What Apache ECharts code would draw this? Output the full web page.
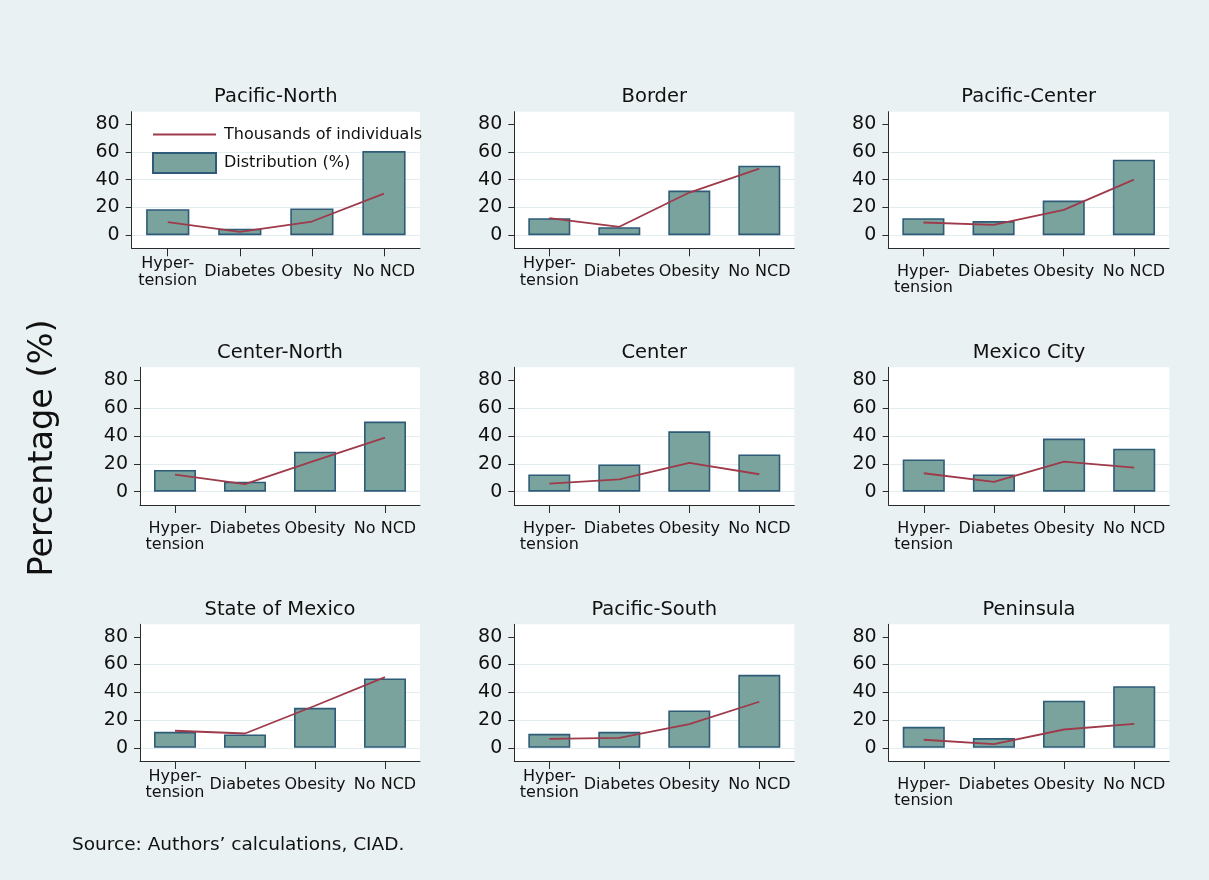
<!DOCTYPE html>
<html>
<head>
<meta charset="utf-8">
<title>NCD distribution by region</title>
<script src="https://cdn.jsdelivr.net/npm/echarts@6/dist/echarts.min.js"></script>
<style>
  html, body { margin: 0; padding: 0; background: #eaf1f3; }
  #chart { width: 1209px; height: 880px; }
</style>
</head>
<body>
<div id="chart"></div>
<script>
// Categories shared by every panel
const categories = ['Hyper-\ntension', 'Diabetes', 'Obesity', 'No NCD'];
const yTicks = [0, 20, 40, 60, 80];

const regions = ['Pacific-North', 'Border', 'Pacific-Center',
                 'Center-North', 'Center', 'Mexico City',
                 'State of Mexico', 'Pacific-South', 'Peninsula'];

// Distribution (%) per region
const distPacificNorth  = [18.7, 4.6, 19.2, 60.6];
const distBorder        = [12.2, 5.7, 32.1, 50.1];
const distPacificCenter = [12.2, 10.1, 24.9, 54.4];
const distCenterNorth   = [15.6, 7.2, 28.6, 50.2];
const distCenter        = [12.3, 19.5, 43.2, 26.7];
const distMexicoCity    = [23.1, 12.3, 38.0, 30.8];
const distStateOfMexico = [11.5, 9.6, 28.8, 50.0];
const distPacificSouth  = [10.1, 11.5, 26.9, 52.6];
const distPeninsula     = [15.1, 7.0, 33.9, 44.4];

// Thousands of individuals per region
const thouPacificNorth  = [9.3, 2.4, 9.8, 29.9];
const thouBorder        = [12.2, 6.0, 30.7, 47.9];
const thouPacificCenter = [9.1, 7.4, 18.2, 40.0];
const thouCenterNorth   = [12.3, 5.5, 22.3, 38.7];
const thouCenter        = [5.8, 8.9, 20.7, 12.5];
const thouMexicoCity    = [13.2, 7.0, 21.6, 17.3];
const thouStateOfMexico = [12.3, 10.3, 30.3, 50.9];
const thouPacificSouth  = [6.5, 7.2, 17.1, 33.2];
const thouPeninsula     = [5.8, 2.6, 13.2, 17.3];

const distribution = [distPacificNorth, distBorder, distPacificCenter,
                      distCenterNorth, distCenter, distMexicoCity,
                      distStateOfMexico, distPacificSouth, distPeninsula];
const thousands = [thouPacificNorth, thouBorder, thouPacificCenter,
                   thouCenterNorth, thouCenter, thouMexicoCity,
                   thouStateOfMexico, thouPacificSouth, thouPeninsula];

// Plot-region boxes [left, right, top, bottom] for each panel
const boxes = [
  [131.7, 420, 111.7, 248.3], [514.3, 794.3, 111.7, 248.3], [888.3, 1169, 111.7, 248.3],
  [140, 420, 367.3, 505],     [514.3, 794.3, 367.3, 505],   [888.7, 1169.3, 367.3, 505],
  [140, 420, 624.3, 761],     [514.3, 794.3, 624.3, 761],   [888.7, 1169.3, 624.3, 761]
];
// Panels whose two-line label is centred on the axis label row
const centredLabels = [true, true, false, false, false, false, true, true, false];

const FONT = 'DejaVu Sans';
const INK = '#111';
const AXIS = '#2b2b2b';
const BAR_FILL = '#7ba39d';
const BAR_EDGE = '#2e5b78';
const LINE_COL = '#9e3a4a';
const GRID_COL = '#e3ecef';

const grids = [], xAxes = [], yAxes = [], series = [], graphics = [];

boxes.forEach((b, i) => {
  const [l, r, t, btm] = b;
  grids.push({
    left: l, top: t, width: r - l, height: btm - t,
    show: true, backgroundColor: '#ffffff', borderWidth: 0, containLabel: false
  });
  xAxes.push({
    type: 'category', gridIndex: i, data: categories, boundaryGap: true,
    axisLine: { show: true, onZero: false, lineStyle: { color: AXIS, width: 1 } },
    axisTick: { show: true, alignWithLabel: true, length: 8, lineStyle: { color: AXIS } },
    axisLabel: {
      fontFamily: FONT, fontSize: 16, color: INK, lineHeight: 16.5,
      interval: 0,
      verticalAlign: centredLabels[i] ? 'middle' : 'top',
      margin: centredLabels[i] ? 24 : 15.2
    },
    splitLine: { show: false }
  });
  yAxes.push({
    type: 'value', gridIndex: i, min: -9.5, max: 89,
    axisLine: { show: true, lineStyle: { color: AXIS, width: 1 } },
    axisTick: { show: true, length: 6, customValues: yTicks, lineStyle: { color: AXIS } },
    axisLabel: { fontFamily: FONT, fontSize: 19, color: INK, margin: 12, customValues: yTicks },
    splitLine: {
      show: true,
      lineStyle: { color: [GRID_COL, GRID_COL, GRID_COL, GRID_COL, '#ffffff'], width: 1 }
    }
  });
  series.push({
    name: 'Distribution (%)', type: 'bar', xAxisIndex: i, yAxisIndex: i,
    data: distribution[i], barWidth: '60%',
    itemStyle: { color: BAR_FILL, borderColor: BAR_EDGE, borderWidth: 1.6 },
    silent: true, animation: false
  });
  series.push({
    name: 'Thousands of individuals', type: 'line', xAxisIndex: i, yAxisIndex: i,
    data: thousands[i], symbol: 'none', smooth: false,
    lineStyle: { color: LINE_COL, width: 1.8 }, itemStyle: { color: LINE_COL },
    silent: true, animation: false, z: 3
  });
  // Panel title
  graphics.push({
    type: 'text', x: (l + r) / 2, y: t - 14.5,
    style: { text: regions[i], font: '19.5px "' + FONT + '"', fill: INK,
             align: 'center', verticalAlign: 'middle' }
  });
});

// Shared y title and source note
graphics.push({
  type: 'text', x: 43, y: 448, rotation: Math.PI / 2,
  style: { text: 'Percentage (%)', font: '33.5px "' + FONT + '"', fill: INK,
           align: 'center', verticalAlign: 'middle' }
});
graphics.push({
  type: 'text', x: 72, y: 845,
  style: { text: 'Source: Authors\u2019 calculations, CIAD.', font: '18.5px "' + FONT + '"',
           fill: INK, align: 'left', verticalAlign: 'middle' }
});

const chart = echarts.init(document.getElementById('chart'), null, { renderer: 'canvas' });
chart.setOption({
  backgroundColor: '#eaf1f3',
  animation: false,
  legend: {
    orient: 'vertical', left: 147, top: 121.5,
    itemWidth: 63, itemHeight: 20, itemGap: 9.5,
    data: [
      {
        name: 'Thousands of individuals',
        itemStyle: { color: 'rgba(0,0,0,0)', borderColor: 'rgba(0,0,0,0)', borderWidth: 0 }
      },
      { name: 'Distribution (%)', icon: 'rect' }
    ],
    textStyle: { fontFamily: FONT, fontSize: 16, color: INK, padding: [0, 0, 0, 3] },
    selectedMode: false
  },
  grid: grids,
  xAxis: xAxes,
  yAxis: yAxes,
  series: series,
  graphic: graphics
});
</script>
</body>
</html>
